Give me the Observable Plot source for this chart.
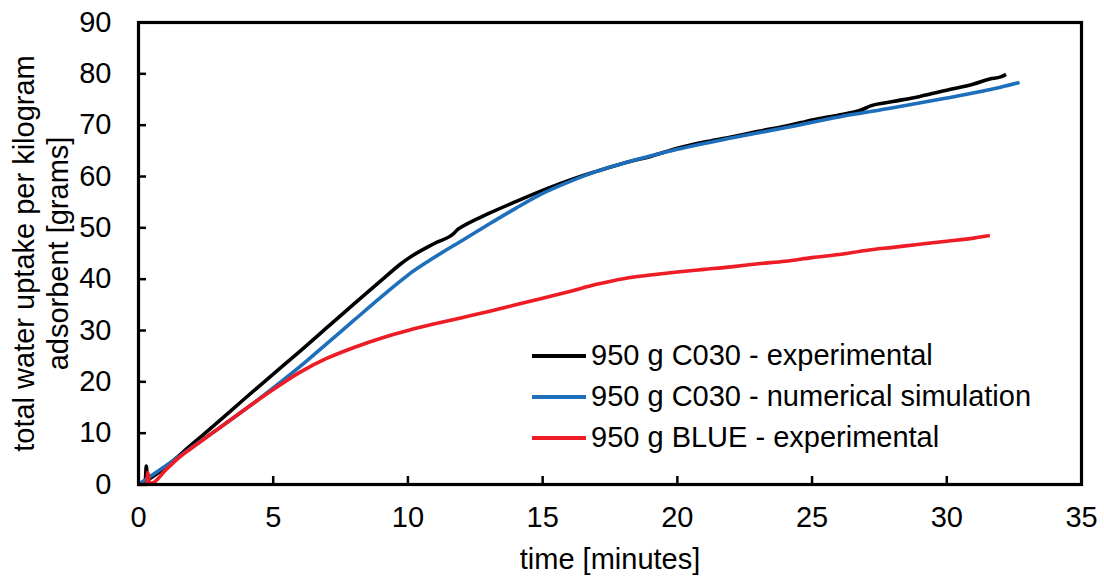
<!DOCTYPE html>
<html>
<head>
<meta charset="utf-8">
<script src="https://cdn.jsdelivr.net/npm/d3@7"></script>
<script src="https://cdn.jsdelivr.net/npm/@observablehq/plot@0.6"></script>
<style>
  html, body { margin: 0; padding: 0; background: #fff; }
  #wrap { position: relative; width: 1104px; height: 579px; font-family: "Liberation Sans", Arial, sans-serif; }
  #legend { position: absolute; left: 532px; top: 335px; font-size: 29px; color: #000; }
  .row { display: flex; align-items: center; height: 41px; white-space: nowrap; }
  .sw { width: 54px; height: 4px; margin-right: 5px; }
</style>
</head>
<body>
<div id="wrap"></div>
<script>
// Series: 950 g C030 - experimental
const c030ExpTime   = [0, 0.25, 0.29, 0.33, 0.4, 1, 2, 3, 4, 5, 6, 7, 8, 9, 9.74, 10, 11, 11.7, 11.85, 12, 13, 14, 15, 16, 17, 18, 19, 20, 21, 22, 23, 24, 24.6, 25, 26, 26.8, 27.2, 28, 29, 30, 31, 31.6, 32, 32.2];
const c030ExpUptake = [0, 0.6, 3.6, 0.9, 1.1, 3.4, 7.9, 12.4, 17.0, 21.5, 26.0, 30.6, 35.2, 39.7, 43.0, 44.0, 47.0, 48.9, 49.7, 50.2, 52.8, 55.1, 57.3, 59.3, 61.0, 62.6, 63.9, 65.5, 66.7, 67.7, 68.8, 69.8, 70.5, 71.0, 72.0, 72.9, 73.8, 74.6, 75.6, 76.8, 78.0, 79.0, 79.4, 79.9];
// Series: 950 g C030 - numerical simulation
const c030SimTime   = [0, 1, 2, 3, 4, 5, 6, 7, 8, 9, 9.74, 10, 11, 12, 13, 14, 15, 16, 17, 18, 19, 20, 22, 24, 26, 28, 30, 32, 32.7];
const c030SimUptake = [0, 3.6, 7.3, 11.0, 14.8, 18.8, 23.0, 27.5, 32.0, 36.5, 39.7, 40.8, 44.3, 47.5, 50.7, 53.8, 56.7, 59.0, 61.0, 62.6, 64.0, 65.3, 67.5, 69.5, 71.6, 73.4, 75.3, 77.4, 78.3];
// Series: 950 g BLUE - experimental
const blueExpTime   = [0, 0.3, 0.35, 0.4, 0.5, 1, 1.56, 2, 3, 4, 5, 6, 7, 8, 9, 10, 11, 12, 13, 14, 15, 16, 17, 18, 19, 20, 21, 22, 23, 24, 25, 26, 27, 28, 29, 30, 31, 31.6];
const blueExpUptake = [0, 0, 2.4, 0.3, 0.3, 2.8, 5.5, 7.2, 11.0, 14.8, 18.5, 21.9, 24.6, 26.7, 28.5, 30.0, 31.3, 32.5, 33.7, 35.0, 36.3, 37.6, 39.0, 40.1, 40.8, 41.4, 41.9, 42.4, 43.0, 43.5, 44.2, 44.8, 45.6, 46.2, 46.8, 47.4, 48.0, 48.5];

const seriesNames = ["950 g C030 - experimental", "950 g C030 - numerical simulation", "950 g BLUE - experimental"];
const seriesColors = ["#000000", "#1d6fbb", "#ee1c25"];

const xTicks = [0, 5, 10, 15, 20, 25, 30, 35];
const yTicks = [0, 10, 20, 30, 40, 50, 60, 70, 80, 90];
const xTitle = "time [minutes]";
const yTitle = "total water uptake per kilogram\nadsorbent [grams]";

const toRows = (xs, ys, s) => xs.map((x, i) => ({x, y: ys[i], s}));
const rows = [
  ...toRows(c030ExpTime, c030ExpUptake, seriesNames[0]),
  ...toRows(c030SimTime, c030SimUptake, seriesNames[1]),
  ...toRows(blueExpTime, blueExpUptake, seriesNames[2])
];

const innerX = xTicks.slice(1, -1);
const innerY = yTicks.slice(1, -1);

const chart = Plot.plot({
  width: 1104,
  height: 579,
  marginLeft: 138,
  marginRight: 23,
  marginTop: 22,
  marginBottom: 95,
  style: {fontFamily: '"Liberation Sans", Arial, sans-serif', fontSize: "29px", color: "#000", background: "#fff"},
  x: {domain: [0, 35], label: null},
  y: {domain: [0, 90], label: null},
  color: {domain: seriesNames, range: seriesColors},
  marks: [
    Plot.axisX({ticks: xTicks, tickSize: 0, tickPadding: 22, label: null, fontSize: 29}),
    Plot.axisY({ticks: yTicks, tickSize: 0, tickPadding: 27, label: null, fontSize: 29}),
    Plot.axisX({ticks: innerX, tickSize: 8, dy: -8, strokeWidth: 2.5, tickFormat: () => "", label: null}),
    Plot.axisY({ticks: innerY, tickSize: 8, dx: 8, strokeWidth: 2.5, tickFormat: () => "", label: null}),
    Plot.line(rows, {x: "x", y: "y", z: "s", stroke: "s", strokeWidth: 3.6, strokeLinejoin: "round", strokeLinecap: "butt", curve: "monotone-x"}),
    Plot.frame({stroke: "#000", strokeWidth: 3.2}),
    Plot.text([xTitle], {frameAnchor: "bottom", text: d => d, dy: 75, fontSize: 29, lineAnchor: "middle"}),
    Plot.text([yTitle], {frameAnchor: "left", text: d => d, rotate: -90, dx: -98, fontSize: 29, textAnchor: "middle", lineAnchor: "middle", lineHeight: 1.17})
  ]
});

const wrap = document.getElementById("wrap");
wrap.appendChild(chart);

const legend = document.createElement("div");
legend.id = "legend";
seriesNames.forEach((name, i) => {
  const row = document.createElement("div");
  row.className = "row";
  const sw = document.createElement("div");
  sw.className = "sw";
  sw.style.background = seriesColors[i];
  const t = document.createElement("span");
  t.textContent = name;
  row.appendChild(sw);
  row.appendChild(t);
  legend.appendChild(row);
});
wrap.appendChild(legend);
</script>
</body>
</html>
